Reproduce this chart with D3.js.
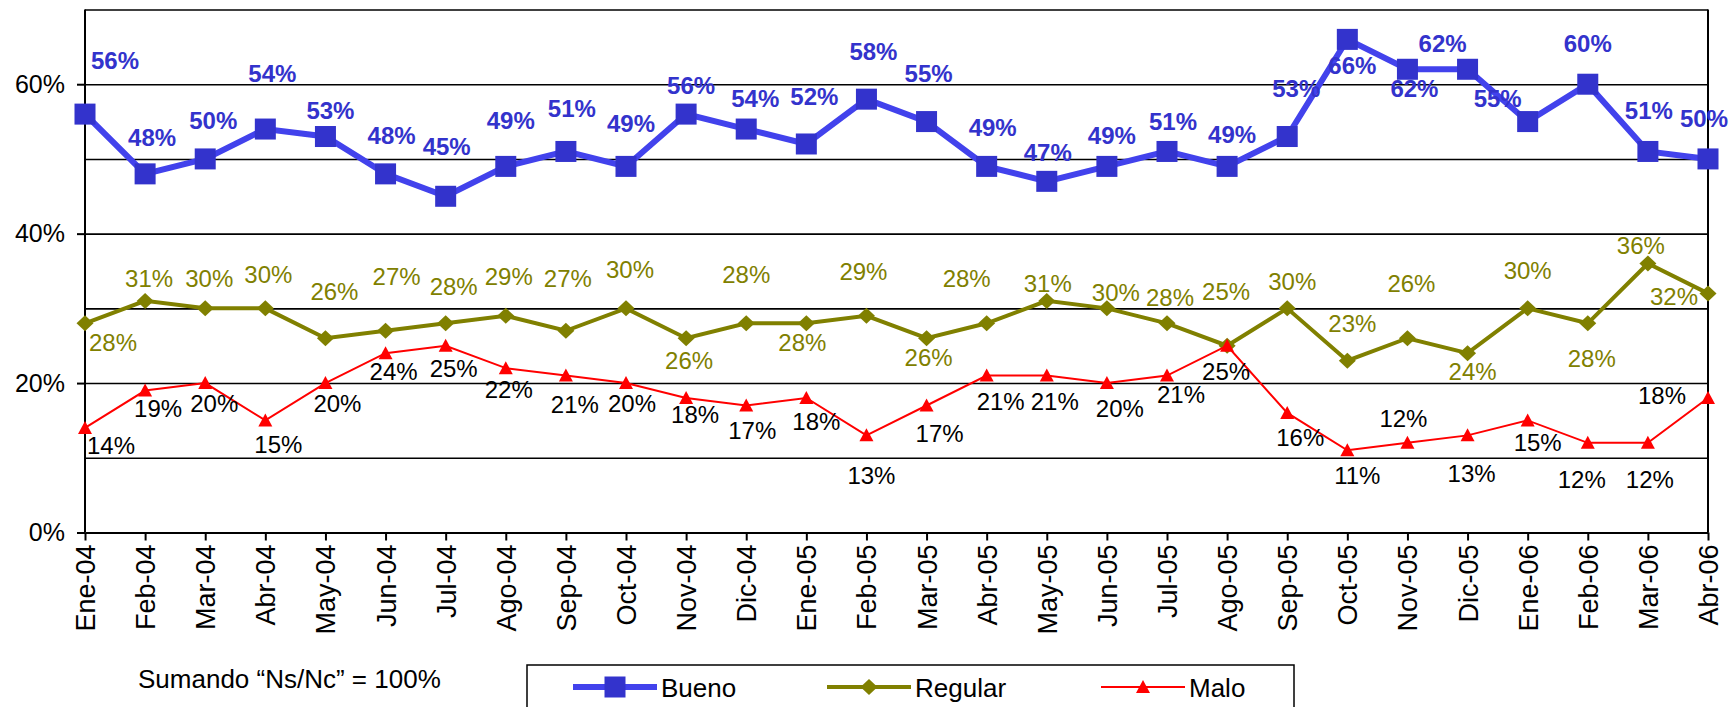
<!DOCTYPE html>
<html>
<head>
<meta charset="utf-8">
<script src="https://cdn.jsdelivr.net/npm/d3@7"></script>
<style>
  body { margin: 0; background: #fff; }
  svg { display: block; font-family: "Liberation Sans", Arial, sans-serif; }
  .grid line { stroke: #000; stroke-width: 1.6; }
  .grid path { display: none; }
  .axis path, .axis line { stroke: #000; stroke-width: 2; }
  .axis text { fill: #000; }
</style>
</head>
<body>
<div id="chart"></div>
<script>
const months = ['Ene-04', 'Feb-04', 'Mar-04', 'Abr-04', 'May-04', 'Jun-04', 'Jul-04', 'Ago-04',
  'Sep-04', 'Oct-04', 'Nov-04', 'Dic-04', 'Ene-05', 'Feb-05', 'Mar-05', 'Abr-05', 'May-05',
  'Jun-05', 'Jul-05', 'Ago-05', 'Sep-05', 'Oct-05', 'Nov-05', 'Dic-05', 'Ene-06', 'Feb-06',
  'Mar-06', 'Abr-06'];

const bueno = [56, 48, 50, 54, 53, 48, 45, 49, 51, 49, 56, 54, 52, 58, 55, 49, 47, 49, 51, 49,
  53, 66, 62, 62, 55, 60, 51, 50];
const regular = [28, 31, 30, 30, 26, 27, 28, 29, 27, 30, 26, 28, 28, 29, 26, 28, 31, 30, 28, 25,
  30, 23, 26, 24, 30, 28, 36, 32];
const malo = [14, 19, 20, 15, 20, 24, 25, 22, 21, 20, 18, 17, 18, 13, 17, 21, 21, 20, 21, 25,
  16, 11, 12, 13, 15, 12, 12, 18];

const yTicks = [0, 20, 40, 60];
const note = 'Sumando \u201cNs/Nc\u201d = 100%';

// label nudges (dx, dy from the point)
const buenoLab = [[30, -45], [7, -28], [8, -30], [7, -47], [5, -18], [6, -30], [1, -41], [5, -37],
  [6, -34], [5, -34], [5, -20], [9, -22], [8, -39], [7, -39], [2, -40], [6, -30], [1, -20],
  [5, -22], [6, -21], [5, -23], [9, -40], [5, 35], [7, 28], [-25, -17], [-30, -15], [0, -32],
  [1, -32], [-4, -32]];
const regularLab = [[28, 28], [4, -14], [4, -21], [3, -25], [9, -38], [11, -46], [8, -28],
  [3, -31], [2, -44], [4, -30], [3, 31], [0, -40], [-4, 28], [-3, -36], [2, 28], [-20, -36],
  [1, -9], [9, -7], [3, -17], [-1, -46], [5, -18], [5, -29], [4, -46], [5, 27], [0, -29],
  [4, 44], [-7, -10], [-34, 12]];
const maloLab = [[26, 26], [13, 26], [9, 29], [13, 33], [12, 29], [8, 27], [8, 31], [3, 30],
  [9, 37], [6, 29], [9, 25], [6, 34], [10, 32], [5, 49], [13, 37], [14, 34], [8, 34], [13, 34],
  [14, 27], [-1, 34], [13, 33], [10, 34], [-4, -16], [4, 47], [10, 31], [-6, 45], [2, 45],
  [-46, 6]];

const width = 1736;
const height = 707;
const plotLeft = 85, plotRight = 1708, plotTop = 9.5, plotBottom = 532.5;

const svg = d3.select('#chart')
  .append('svg')
  .attr('width', width)
  .attr('height', height);

const x = d3.scalePoint().domain(months).range([plotLeft, plotRight]);
const y = d3.scaleLinear().domain([0, 70]).range([plotBottom, plotTop]);

// gridlines every 10%
svg.append('g')
  .attr('class', 'grid')
  .attr('transform', 'translate(' + plotLeft + ',0)')
  .call(d3.axisLeft(y).tickValues(d3.range(10, 80, 10)).tickSize(-(plotRight - plotLeft)).tickFormat(''));

// right border
svg.append('line')
  .attr('x1', plotRight).attr('x2', plotRight)
  .attr('y1', plotTop).attr('y2', plotBottom)
  .attr('stroke', '#000').attr('stroke-width', 2);

// y axis
const yAxis = svg.append('g')
  .attr('class', 'axis')
  .attr('transform', 'translate(' + plotLeft + ',0)')
  .call(d3.axisLeft(y).tickValues(yTicks).tickSize(8).tickPadding(12).tickFormat(d => d + '%'));
yAxis.select('.domain').attr('d', 'M0,' + plotTop + 'V' + plotBottom);
yAxis.selectAll('text').attr('font-size', '25px');

// x axis
const xAxis = svg.append('g')
  .attr('class', 'axis')
  .attr('transform', 'translate(0,' + plotBottom + ')')
  .call(d3.axisBottom(x).tickSize(8).tickSizeOuter(0));
xAxis.selectAll('text')
  .attr('font-size', '27px')
  .attr('text-anchor', 'end')
  .attr('transform', 'translate(0,12) rotate(-90)')
  .attr('x', 0)
  .attr('y', 0)
  .attr('dy', '0.35em');

const line = d3.line()
  .x((d, i) => x(months[i]))
  .y(d => y(d));

// Bueno
svg.append('path').datum(bueno)
  .attr('fill', 'none')
  .attr('stroke', '#4242ec')
  .attr('stroke-width', 6)
  .attr('d', line);
svg.append('g').selectAll('rect')
  .data(bueno)
  .join('rect')
  .attr('x', (d, i) => x(months[i]) - 10.5)
  .attr('y', d => y(d) - 10.5)
  .attr('width', 21)
  .attr('height', 21)
  .attr('fill', '#3333cc');

// Regular
svg.append('path').datum(regular)
  .attr('fill', 'none')
  .attr('stroke', '#808000')
  .attr('stroke-width', 4)
  .attr('d', line);
svg.append('g').selectAll('path')
  .data(regular)
  .join('path')
  .attr('transform', (d, i) => 'translate(' + x(months[i]) + ',' + y(d) + ')')
  .attr('d', 'M0,-8L8.5,0L0,8L-8.5,0Z')
  .attr('fill', '#808000');

// Malo
svg.append('path').datum(malo)
  .attr('fill', 'none')
  .attr('stroke', '#ff0000')
  .attr('stroke-width', 2)
  .attr('d', line);
svg.append('g').selectAll('path')
  .data(malo)
  .join('path')
  .attr('transform', (d, i) => 'translate(' + x(months[i]) + ',' + y(d) + ')')
  .attr('d', 'M0,-7L7,6L-7,6Z')
  .attr('fill', '#ff0000');

function labels(values, nudges, color, weight) {
  svg.append('g').selectAll('text')
    .data(values)
    .join('text')
    .attr('x', (d, i) => x(months[i]) + nudges[i][0])
    .attr('y', (d, i) => y(d) + nudges[i][1])
    .attr('text-anchor', 'middle')
    .attr('font-size', '24px')
    .attr('font-weight', weight)
    .attr('fill', color)
    .text(d => d + '%');
}

labels(regular, regularLab, '#808000', 'normal');
labels(malo, maloLab, '#000', 'normal');
labels(bueno, buenoLab, '#3333cc', 'bold');

// note under the chart
svg.append('text')
  .attr('x', 138)
  .attr('y', 688)
  .attr('font-size', '26px')
  .text(note);

// legend
const legend = svg.append('g');
legend.append('rect')
  .attr('x', 527).attr('y', 665)
  .attr('width', 767).attr('height', 60)
  .attr('fill', '#fff')
  .attr('stroke', '#000')
  .attr('stroke-width', 1.5);

const items = [
  { name: 'Bueno', x0: 573, color: '#4242ec', mark: '#3333cc', w: 6, shape: 'M-10.5,-10.5H10.5V10.5H-10.5Z' },
  { name: 'Regular', x0: 827, color: '#808000', mark: '#808000', w: 4, shape: 'M0,-8L8.5,0L0,8L-8.5,0Z' },
  { name: 'Malo', x0: 1101, color: '#ff0000', mark: '#ff0000', w: 2, shape: 'M0,-7L7,6L-7,6Z' }
];

const item = legend.selectAll('g.item')
  .data(items)
  .join('g')
  .attr('class', 'item')
  .attr('transform', d => 'translate(' + d.x0 + ',687)');
item.append('line')
  .attr('x1', 0).attr('x2', 84)
  .attr('stroke', d => d.color)
  .attr('stroke-width', d => d.w);
item.append('path')
  .attr('transform', 'translate(42,0)')
  .attr('d', d => d.shape)
  .attr('fill', d => d.mark);
item.append('text')
  .attr('x', 88)
  .attr('y', 10)
  .attr('font-size', '26px')
  .text(d => d.name);
</script>
</body>
</html>
